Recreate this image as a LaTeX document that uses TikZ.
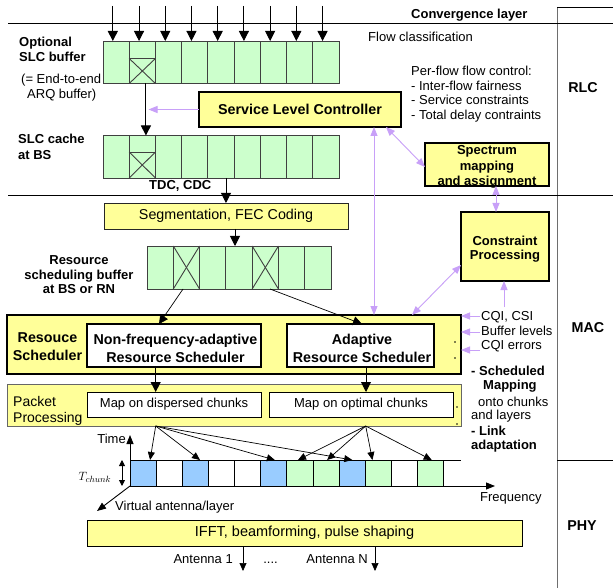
\documentclass[tikz,border=0pt]{standalone}
\usepackage{fontspec}
\setmainfont{Liberation Sans}
\usetikzlibrary{arrows.meta,calc}
\definecolor{bufgreen}{HTML}{CCFFCC}
\definecolor{boxyellow}{HTML}{FFFF99}
\definecolor{chunkblue}{HTML}{99CCFF}
\definecolor{ctrlpurple}{HTML}{C8A0F8}
\definecolor{linegray}{HTML}{6E6E6E}
\begin{document}
\begin{tikzpicture}[x=1pt,y=-1pt,
  fs/.style={font=\fontsize{13}{15}\selectfont, inner sep=0pt},
  fsb/.style={font=\fontsize{13}{15}\selectfont\bfseries, inner sep=0pt},
  fl/.style={font=\fontsize{14.3}{17}\selectfont, inner sep=0pt},
  flb/.style={font=\fontsize{14.3}{18}\selectfont\bfseries, inner sep=0pt},
  cell/.style={draw=black!75, fill=bufgreen, line width=0.9pt, minimum width=26.22pt, minimum height=42.5pt, inner sep=0pt, outer sep=0pt, anchor=north west},
  rcell/.style={cell, minimum width=26.29pt, minimum height=43pt},
  xmark/.style={draw=black!75, line width=0.9pt},
  chunkcell/.style={draw=black, line width=0.9pt, minimum width=26.15pt, minimum height=26pt, inner sep=0pt, outer sep=0pt, anchor=north west},
  thickbox/.style={draw=black, fill=boxyellow, line width=1.8pt, inner sep=0pt, outer sep=0pt},
  thinbox/.style={draw=black!85, fill=boxyellow, line width=0.9pt, inner sep=0pt, outer sep=0pt},
  whitebox/.style={draw=black, fill=white, line width=1.6pt, inner sep=0pt, outer sep=0pt},
  mapbox/.style={draw=black, fill=white, line width=0.9pt, inner sep=0pt, outer sep=0pt},
  flow/.style={-{Triangle[length=10pt,width=10pt]}, line width=0.9pt},
  flowthin/.style={-{Triangle[length=9pt,width=9pt]}, line width=0.7pt},
  chunkarrow/.style={-{Triangle[length=8pt,width=7pt]}, line width=0.7pt},
  axisarrow/.style={-{Triangle[length=9pt,width=7pt]}, line width=0.9pt},
  tarrow/.style={{Triangle[length=6pt,width=6pt]}-{Triangle[length=6pt,width=6pt]}, line width=0.9pt},
  ctl/.style={draw=ctrlpurple, line width=0.9pt, -{Triangle[length=9pt,width=7pt]}},
  ctlboth/.style={draw=ctrlpurple, line width=0.9pt, {Triangle[length=9pt,width=7pt]}-{Triangle[length=9pt,width=7pt]}},
]
\useasboundingbox (0,0) rectangle (613,588);
\fill[white] (0,0) rectangle (613,588);

% layer frame
\draw[linegray, line width=0.9pt] (557,7) -- (557,588);
\draw[line width=0.9pt] (557,7) -- (613,7);
\draw[line width=0.9pt] (8,23) -- (613,23);
\draw[line width=0.9pt] (8,195) -- (613,195);
\draw[line width=0.9pt] (557,460) -- (613,460);

\node[flb] (rlc) at (583,88) {RLC};
\node[flb] (mac) at (588,328) {MAC};
\node[flb] (phy) at (582,526) {PHY};

% top texts
\node[fsb, anchor=west] (conv) at (411,15) {Convergence layer};
\node[fs, anchor=west] (flowcl) at (368,37) {Flow classification};
\node[fs, anchor=west, align=left, font=\fontsize{13}{14.7}\selectfont] (perflow) at (411,94) {Per-flow flow control:\\- Inter-flow fairness\\- Service constraints\\- Total delay contraints};

% SLC buffer and cache
\foreach \i in {1,...,9}{
  \node[cell] (ob\i) at ({103+26.22*(\i-1)},41) {};
  \node[cell] (sc\i) at ({103+26.22*(\i-1)},135.5) {};
}
\draw[xmark] (ob2.south west) rectangle ($(ob2.south east)+(0,-25)$);
\draw[xmark] (ob2.south west) -- ($(ob2.south east)+(0,-25)$);
\draw[xmark] (ob2.south east) -- ($(ob2.south west)+(0,-25)$);
\draw[xmark] (sc2.south west) rectangle ($(sc2.south east)+(0,-26)$);
\draw[xmark] (sc2.south west) -- ($(sc2.south east)+(0,-26)$);
\draw[xmark] (sc2.south east) -- ($(sc2.south west)+(0,-26)$);

\foreach \i in {1,...,9}{
  \coordinate (in\i) at ($(ob\i.north)+(-3.3,-35)$);
  \draw[flow] (in\i) -- (in\i |- ob\i.north);
}

\node[fsb, anchor=west, align=left] (optlab) at (19,49.5) {Optional\\SLC buffer};
\node[fs, anchor=west] (e2e) at (21,80) {(= End-to-end};
\node[fs, anchor=west] (arq) at (27,95) {ARQ buffer)};
\node[fsb, anchor=west, align=left, font=\fontsize{13}{16}\selectfont\bfseries] (cachelab) at (18,147) {SLC cache\\at BS};
\node[fsb, anchor=west] (tdc) at (149,186) {TDC, CDC};

\coordinate (o2c) at ($(ob2.south)+(3.6,0)$);
\draw[flow] (o2c) -- (o2c |- sc2.north);

% Service level controller
\node[thickbox, flb, minimum width=202pt, minimum height=35pt] (slc) at (300,109.5) {Service Level Controller};
\coordinate (slcend) at (148.5,109.5);
\draw[ctl] (slc.west) -- (slcend);

% Spectrum mapping
\node[thickbox, minimum width=124pt, minimum height=43pt] (spec) at (487,164.5) {};
\node[align=center, font=\fontsize{13}{15.5}\selectfont\bfseries, inner sep=0pt] (spectext) at (487,167) {Spectrum\\mapping\\and assignment};
\draw[ctlboth] ($(slc.south)+(86,0)$) -- ($(spec.west)+(0,2.5)$);

% Segmentation
\node[thinbox, fl, minimum width=244pt, minimum height=26pt] (seg) at (226,216) {Segmentation, FEC Coding};
\coordinate (c2s) at ($(sc5.south)+(5,0)$);
\draw[flow] (c2s) -- (c2s |- seg.north);

% Resource scheduling buffer
\foreach \i in {1,...,7}{
  \node[rcell] (rb\i) at ({147+26.29*(\i-1)},246) {};
}
\foreach \j in {2,5}{
  \draw[xmark] (rb\j.south west) -- (rb\j.north east);
  \draw[xmark] (rb\j.north west) -- (rb\j.south east);
}
\coordinate (s2b) at ($(seg.south)+(9,0)$);
\draw[flow] (s2b) -- (s2b |- rb4.north);
\node[align=center, font=\fontsize{13}{14.5}\selectfont\bfseries, inner sep=0pt] (rblab) at (79,275) {Resource\\scheduling buffer\\at BS or RN};

% Constraint processing
\node[thickbox, minimum width=88pt, minimum height=69pt] (cp) at (505,246.5) {};
\node[align=center, font=\fontsize{13}{14}\selectfont\bfseries, inner sep=0pt] (cptext) at (505,249) {Constraint\\Processing};
\draw[ctlboth] ($(spec.south)+(9,0)$) -- ($(cp.north)+(-9,0)$);

% Resource scheduler
\node[thickbox, minimum width=454pt, minimum height=59pt] (rs) at (234,344.5) {};
\node[flb, align=center] (rslab) at (47.5,346.5) {Resouce\\Scheduler};
\node[whitebox, minimum width=174pt, minimum height=43pt] (nfs) at (174,345.5) {};
\node[flb, align=center] (nfstext) at (175.5,348.5) {Non-frequency-adaptive\\Resource Scheduler};
\node[whitebox, minimum width=147pt, minimum height=43pt] (ars) at (360.5,345.5) {};
\node[flb, align=center] (arstext) at (362,348.5) {Adaptive\\Resource Scheduler};
\fill (455,342) circle (0.8);
\fill (455,358) circle (0.8);

\draw[flowthin] ($(rb2.south)+(-3.4,0)$) -- ($(nfs.north)+(-15,0)$);
\draw[flowthin] ($(rb5.south)+(4.7,0)$) -- ($(ars.north)+(1.5,0)$);

% purple control connectors
\coordinate (p1) at ($(slc.south)+(74,0)$);
\draw[ctlboth] (p1) -- (p1 |- rs.north);
\draw[ctlboth] ($(cp.west)+(0,18.5)$) -- ($(rs.north)+(178,0)$);
\coordinate (cqup) at (504,307);
\draw[ctl] (cqup) -- (cqup |- cp.south);

\node[fs, anchor=west] (cqi) at (481,317) {CQI, CSI};
\node[fs, anchor=west] (buf) at (481,331) {Buffer levels};
\node[fs, anchor=west] (cqe) at (481,346) {CQI errors};
\foreach \yy in {316,332,350}{
  \coordinate (q\yy) at (480,\yy);
  \draw[ctl] (q\yy) -- (q\yy -| rs.east);
}

% right list
\node[fsb, anchor=west] (l1) at (471,371) {- Scheduled};
\node[fsb, anchor=west] (l2) at (483,386) {Mapping};
\node[fs, anchor=west] (l3) at (478,402) {onto chunks};
\node[fs, anchor=west] (l4) at (471,416) {and layers};
\node[fsb, anchor=west] (l5) at (471,431) {- Link};
\node[fsb, anchor=west] (l6) at (471,446) {adaptation};

% Packet processing
\node[draw=black!60, fill=boxyellow, line width=1pt, inner sep=0pt, minimum width=454pt, minimum height=42pt] (pp) at (234,405) {};
\node[anchor=west, align=left, font=\fontsize{14}{16}\selectfont, inner sep=0pt] (pplab) at (13,411) {Packet\\Processing};
\node[mapbox, fs, minimum width=174pt, minimum height=25pt] (md) at (174,404.5) {Map on dispersed chunks};
\node[mapbox, fs, minimum width=184pt, minimum height=25pt] (mo) at (361,404.5) {Map on optimal chunks};
\fill (457,407) circle (0.8);
\fill (457,424) circle (0.8);

\coordinate (n2d) at ($(nfs.south)+(-18.3,0)$);
\draw[flow] (n2d) -- (n2d |- md.north);
\coordinate (a2o) at ($(ars.south)+(5.5,0)$);
\draw[flow] (a2o) -- (a2o |- mo.north);

% chunks
\foreach \i/\c in {1/chunkblue,2/white,3/chunkblue,4/white,5/white,6/chunkblue,7/bufgreen,8/bufgreen,9/chunkblue,10/bufgreen,11/white,12/bufgreen}{
  \node[chunkcell, fill=\c] (c\i) at ({130+26.15*(\i-1)},460) {};
}
\coordinate (topend) at (461,460);
\draw[line width=0.9pt] (c12.north east) -- (topend);
\coordinate (freqend) at (495,486);
\draw[axisarrow] (c12.south east) -- (freqend);
\coordinate (timeend) at (130,435);
\draw[axisarrow] (c1.south west) -- (timeend);
\coordinate (virtend) at (97,511);
\draw[axisarrow] (c1.south west) -- (virtend);
\coordinate (tc1) at (122,460);
\coordinate (tc2) at (122,486);
\draw[tarrow] (tc1) -- (tc2);

\node[fs, anchor=east] (timelab) at (126,439) {Time};
\node[font=\fontsize{13}{15}\selectfont, inner sep=0pt] (tchunk) at (95,477) {$T_{chunk}$};
\node[fs, anchor=west] (virtlab) at (115,507) {Virtual antenna/layer};
\node[fs, anchor=west] (freqlab) at (480,498) {Frequency};

\coordinate (src1) at (155.7,426);
\coordinate (src2) at (365.7,426);
\draw[chunkarrow] (src1) -- ($(c1.north)+(7,0)$);
\draw[chunkarrow] (src1) -- ($(c3.north)+(4.6,0)$);
\draw[chunkarrow] (src1) -- ($(c6.north)+(1,0)$);
\draw[chunkarrow] (src1) -- ($(c9.north)+(0,0)$);
\draw[chunkarrow] (src2) -- ($(c7.north)+(-2,0)$);
\draw[chunkarrow] (src2) -- ($(c8.north)+(1,0)$);
\draw[chunkarrow] (src2) -- ($(c10.north)+(-6,0)$);
\draw[chunkarrow] (src2) -- ($(c12.north)+(1,0)$);

% IFFT
\node[thinbox, draw=black, font=\fontsize{14.5}{17}\selectfont, minimum width=435pt, minimum height=26pt] (ifft) at (304.5,533) {IFFT, beamforming, pulse shaping};
\coordinate (ant1) at (243,571);
\coordinate (antn) at (375,571);
\draw[chunkarrow] (ifft.south -| ant1) -- (ant1);
\draw[chunkarrow] (ifft.south -| antn) -- (antn);
\node[fs, anchor=east] (a1lab) at (233,559) {Antenna 1};
\node[fs, anchor=base] (dots) at (270.5,563) {....};
\node[fs, anchor=east] (anlab) at (368,559) {Antenna N};
\end{tikzpicture}
\end{document}
